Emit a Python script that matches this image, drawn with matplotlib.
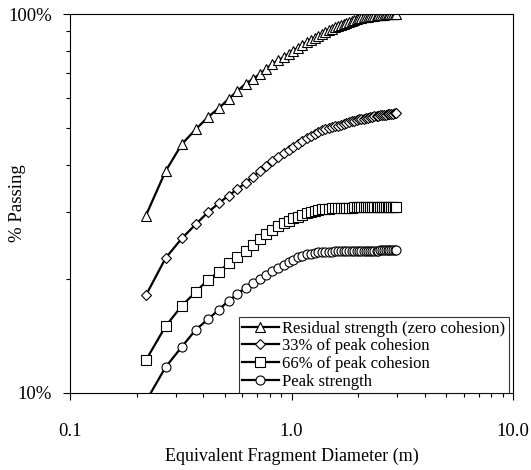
import matplotlib
matplotlib.use("Agg")
import matplotlib.pyplot as plt
from matplotlib.ticker import FixedLocator, NullFormatter, FixedFormatter

plt.rcParams['font.family'] = ['Liberation Serif', 'DejaVu Serif']

# fragment diameter (m), shared by all four curves
diameter = [0.22, 0.27, 0.32, 0.37, 0.42, 0.47, 0.52, 0.57, 0.62, 0.67,
            0.72, 0.77, 0.82, 0.87, 0.92, 0.97, 1.02, 1.07, 1.12, 1.17,
            1.22, 1.27, 1.32, 1.37, 1.42, 1.47, 1.52, 1.57, 1.62, 1.67,
            1.72, 1.77, 1.82, 1.87, 1.92, 1.97, 2.02, 2.07, 2.12, 2.17,
            2.22, 2.27, 2.32, 2.37, 2.42, 2.47, 2.52, 2.57, 2.62, 2.67,
            2.72, 2.77, 2.82, 2.87, 2.92, 2.97]

# % passing
residual = [29.4, 38.5, 45.4, 49.7, 53.5, 56.5, 59.7, 62.7, 65.5, 67.5,
            69.5, 71.8, 74.0, 75.5, 77.0, 78.5, 80.0, 81.5, 83.0, 84.5,
            85.6, 86.7, 87.8, 88.8, 89.7, 90.6, 91.4, 92.2, 93.0, 93.7,
            94.4, 95.0, 95.6, 96.1, 96.6, 97.0, 97.4, 97.7, 98.0, 98.3,
            98.5, 98.7, 98.9, 99.1, 99.2, 99.4, 99.5, 99.6, 99.7, 99.8,
            99.85, 99.9, 99.95, 100.0, 100.0, 100.0]
cohesion33 = [18.1, 22.7, 25.6, 27.9, 30.0, 31.7, 33.2, 34.5, 35.9, 37.2,
              38.6, 39.8, 41.0, 42.0, 43.0, 43.8, 44.6, 45.4, 46.2, 47.0,
              47.6, 48.2, 48.8, 49.3, 49.7, 50.0, 50.3, 50.6, 50.8, 51.0,
              51.3, 51.6, 51.9, 52.1, 52.3, 52.5, 52.7, 52.9, 53.0, 53.2,
              53.3, 53.5, 53.6, 53.7, 53.8, 53.9, 54.0, 54.1, 54.2, 54.3,
              54.4, 54.5, 54.5, 54.6, 54.7, 54.8]
cohesion66 = [12.2, 15.0, 17.0, 18.5, 19.9, 20.9, 22.0, 22.9, 23.7, 24.6,
              25.5, 26.2, 26.9, 27.5, 28.1, 28.5, 28.9, 29.2, 29.5, 29.8,
              30.0, 30.2, 30.4, 30.5, 30.6, 30.6, 30.7, 30.7, 30.7, 30.8,
              30.8, 30.8, 30.8, 30.8, 30.9, 30.9, 30.9, 30.9, 30.9, 30.9,
              30.9, 30.9, 31.0, 31.0, 31.0, 31.0, 31.0, 31.0, 31.0, 31.0,
              31.0, 31.0, 31.0, 31.0, 31.0, 31.0]
peak = [9.5, 11.7, 13.25, 14.7, 15.65, 16.6, 17.5, 18.25, 18.95, 19.5,
        20.0, 20.5, 21.0, 21.4, 21.8, 22.2, 22.5, 22.8, 23.0, 23.2,
        23.3, 23.4, 23.5, 23.55, 23.6, 23.6, 23.6, 23.65, 23.65, 23.65,
        23.7, 23.7, 23.7, 23.7, 23.7, 23.7, 23.7, 23.7, 23.75, 23.75,
        23.75, 23.75, 23.75, 23.75, 23.75, 23.75, 23.8, 23.8, 23.8, 23.8,
        23.8, 23.8, 23.8, 23.8, 23.8, 23.8]

labels = ["Residual strength (zero cohesion)", "33% of peak cohesion",
          "66% of peak cohesion", "Peak strength"]

fig = plt.figure(figsize=(5.31, 4.70), dpi=100)
ax = fig.add_axes([0.132, 0.164, 0.834, 0.806])

series = [residual, cohesion33, cohesion66, peak]
markers = ['^', 'D', 's', 'o']
msizes = [7, 5, 6.5, 6.5]
for ys, m, ms, lab in zip(series, markers, msizes, labels):
    ax.plot(diameter, ys, color='black', lw=1.6, marker=m, ms=ms,
            mfc='white', mec='black', mew=0.8, label=lab)

ax.set_xscale('log')
ax.set_yscale('log')
ax.set_xlim(0.1, 10)
ax.set_ylim(10, 100)

ax.xaxis.set_major_locator(FixedLocator([0.1, 1, 10]))
ax.xaxis.set_major_formatter(FixedFormatter(['0.1', '1.0', '10.0']))
ax.xaxis.set_minor_formatter(NullFormatter())
ax.yaxis.set_major_locator(FixedLocator([10, 100]))
ax.yaxis.set_major_formatter(FixedFormatter(['10%', '100%']))
ax.yaxis.set_minor_locator(FixedLocator([20, 30, 40, 50, 60, 70, 80, 90]))
ax.yaxis.set_minor_formatter(NullFormatter())

ax.tick_params(which='major', direction='out', length=5, width=0.8,
               labelsize=13.5)
ax.tick_params(which='minor', direction='out', length=3, width=0.8)
ax.tick_params(axis='x', pad=17)
ax.tick_params(axis='y', pad=8)

ax.set_xlabel("Equivalent Fragment Diameter (m)", fontsize=13)
ax.set_ylabel("% Passing", fontsize=13.5)
ax.xaxis.set_label_coords(0.5, -0.145)
ax.yaxis.set_label_coords(-0.10, 0.5)

leg = ax.legend(loc='lower right', bbox_to_anchor=(0.99, 0.0), fontsize=12,
                frameon=True, fancybox=False, edgecolor='black',
                handlelength=2.2, handletextpad=0.2, labelspacing=0.1,
                borderpad=0.2, borderaxespad=0.0)
leg.get_frame().set_linewidth(0.8)

fig.savefig("out.png", dpi=100)
